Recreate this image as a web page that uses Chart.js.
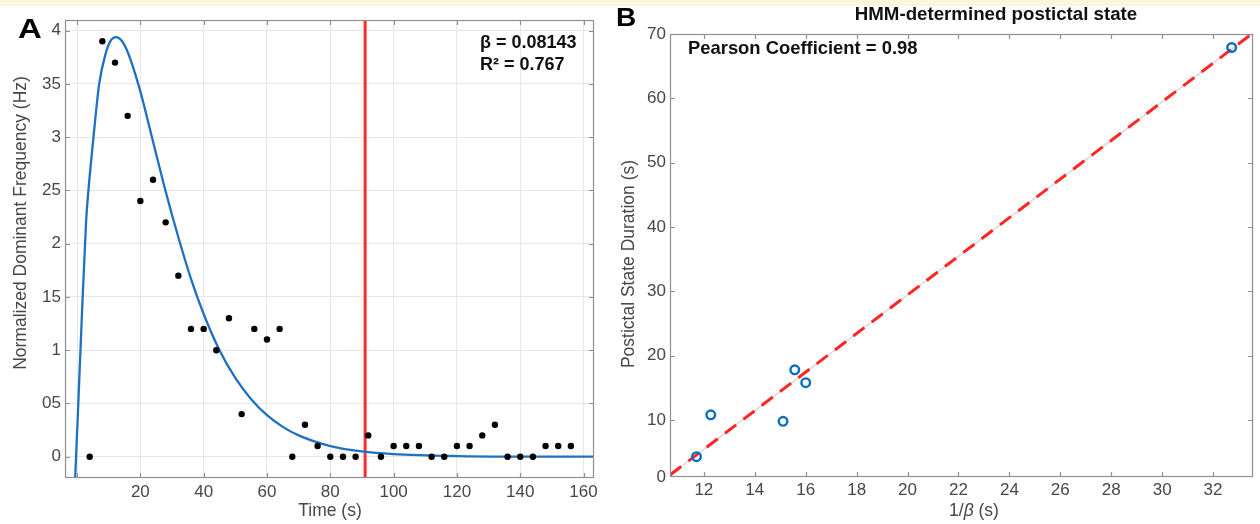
<!DOCTYPE html>
<html>
<head>
<meta charset="utf-8">
<title>Postictal state</title>
<script src="https://cdn.jsdelivr.net/npm/chart.js@4.4.1/dist/chart.umd.min.js"></script>
<style>
    html, body { margin: 0; padding: 0; background: #ffffff; }
    body { width: 1260px; height: 524px; position: relative; overflow: hidden; }
    .band { position: absolute; left: 0; top: 0; width: 1260px; height: 6px; background: #fdf5dc; }
    #chartA { position: absolute; left: 0; top: 0; }
    #chartB { position: absolute; left: 610px; top: 0; }
</style>
</head>
<body>
<canvas id="chartA" width="610" height="524"></canvas>
<canvas id="chartB" width="650" height="524"></canvas>
<div class="band"></div>
<script>
// ---- Panel A data ----
const sampleTimes = [4, 8, 12, 16, 20, 24, 28, 32, 36, 40, 44, 48, 52, 56, 60, 64, 68, 72, 76, 80,
                     84, 88, 92, 96, 100, 104, 108, 112, 116, 120, 124, 128, 132, 136, 140, 144, 148, 152, 156];
const sampleFreq = [0, 3.9, 3.7, 3.2, 2.4, 2.6, 2.2, 1.7, 1.2, 1.2, 1.0, 1.3, 0.4, 1.2, 1.1, 1.2, 0, 0.3, 0.1, 0,
                    0, 0, 0.2, 0, 0.1, 0.1, 0.1, 0, 0, 0.1, 0.1, 0.2, 0.3, 0, 0, 0, 0.1, 0.1, 0.1];

// fitted curve
const fitTimes = [-0.6, -0.3, 0.4, 1.5, 2.85, 3.6, 5.2, 7, 9, 10.5, 12.3, 14, 16, 18, 20, 24, 28, 32, 36,
                  40, 45, 50, 55, 60, 65, 70, 80, 90, 100, 120, 140, 164];
const fitFreq = [-0.2, 0, 0.5, 1.3, 2.2, 2.5, 3.0, 3.5, 3.78, 3.9, 3.94, 3.91, 3.8, 3.63, 3.43, 2.96, 2.49, 2.06, 1.67,
                 1.34, 1.0, 0.74, 0.54, 0.39, 0.28, 0.2, 0.1, 0.05, 0.025, 0.006, 0.001, 0];

const cutoffTime = 91;

const xTicksA = [0, 20, 40, 60, 80, 100, 120, 140, 160];
const yTicksA = [0, 0.5, 1, 1.5, 2, 2.5, 3, 3.5, 4];
const yTickLabelsA = ['0', '05', '1', '15', '2', '25', '3', '35', '4'];

// ---- Panel B data ----
const invBeta = [11.71, 12.27, 15.11, 15.57, 16.0, 32.73];
const duration = [4.3, 10.8, 9.8, 17.8, 15.8, 67.9];
const lineX = [10.67, 33.58];
const lineY = [1.45, 70.2];

const xTicksB = [12, 14, 16, 18, 20, 22, 24, 26, 28, 30, 32];
const yTicksB = [1.14, 10, 20, 30, 40, 50, 60, 70];
const yTickLabelsB = ['0', '10', '20', '30', '40', '50', '60', '70'];

const FONT = "'Liberation Sans', Arial, Helvetica, sans-serif";
Chart.defaults.font.family = FONT;

function toPoints(xs, ys) {
    return xs.map(function(x, i) { return {x: x, y: ys[i]}; });
}

// box around the plot with inward tick marks on all four sides, plus free text
const framePlugin = {
    id: 'frame',
    afterDraw(chart, args, opts) {
        const ctx = chart.ctx;
        const a = chart.chartArea;
        const xs = chart.scales.x, ys = chart.scales.y;
        const len = 5;
        ctx.save();
        ctx.strokeStyle = '#8f8f8f';
        ctx.lineWidth = 1.2;
        ctx.strokeRect(Math.round(a.left) + 0.5, Math.round(a.top) + 0.5,
                       Math.round(a.right - a.left) - 1, Math.round(a.bottom - a.top) - 1);
        ctx.beginPath();
        xs.ticks.forEach(function(t) {
            const px = Math.round(xs.getPixelForValue(t.value)) + 0.5;
            if (px <= a.left + 1 || px >= a.right - 1) return;
            ctx.moveTo(px, a.bottom); ctx.lineTo(px, a.bottom - len);
            ctx.moveTo(px, a.top); ctx.lineTo(px, a.top + len);
        });
        ys.ticks.forEach(function(t) {
            const py = Math.round(ys.getPixelForValue(t.value)) + 0.5;
            if (py <= a.top - 1 || py >= a.bottom - 1) return;
            ctx.moveTo(a.left, py); ctx.lineTo(a.left + len, py);
            ctx.moveTo(a.right, py); ctx.lineTo(a.right - len, py);
        });
        ctx.stroke();

        (opts.texts || []).forEach(function(t) {
            ctx.save();
            ctx.translate(t.x, t.y);
            if (t.rotate) ctx.rotate(t.rotate);
            if (t.scaleX) ctx.scale(t.scaleX, 1);
            ctx.fillStyle = t.color || '#111';
            ctx.textBaseline = t.baseline || 'alphabetic';
            const parts = t.parts || [{text: t.text, font: t.font}];
            let total = 0;
            parts.forEach(function(p) { ctx.font = p.font; total += ctx.measureText(p.text).width; });
            let x = t.align === 'center' ? -total / 2 : 0;
            ctx.textAlign = 'left';
            parts.forEach(function(p) {
                ctx.font = p.font;
                ctx.fillText(p.text, x, 0);
                x += ctx.measureText(p.text).width;
            });
            ctx.restore();
        });
        ctx.restore();
    }
};

const tickFont = {size: 17, family: FONT};
const labelColor = '#474747';

// ---- Panel A ----
new Chart(document.getElementById('chartA'), {
    type: 'scatter',
    data: {
        datasets: [{
            data: toPoints(sampleTimes, sampleFreq),
            backgroundColor: '#000000',
            borderWidth: 0,
            pointRadius: 3.2,
            order: 1
        }, {
            data: toPoints(fitTimes, fitFreq),
            showLine: true,
            borderColor: '#1f70c1',
            borderWidth: 2.3,
            pointRadius: 0,
            cubicInterpolationMode: 'monotone',
            clip: 0,
            order: 2
        }, {
            data: [{x: cutoffTime, y: -0.2}, {x: cutoffTime, y: 4.1}],
            showLine: true,
            borderColor: '#ff2a2a',
            borderWidth: 3,
            pointRadius: 0,
            clip: 0,
            order: 3
        }]
    },
    options: {
        responsive: false,
        animation: false,
        layout: { padding: { left: 0, right: 16, top: 20, bottom: 0 } },
        plugins: {
            legend: { display: false },
            tooltip: { enabled: false },
            frame: {
                texts: [
                    { text: 'A', x: 18, y: 38, scaleX: 1.22, font: 'bold 27px ' + FONT, color: '#000' },
                    { text: 'β = 0.08143', x: 480, y: 48, font: 'bold 18px ' + FONT },
                    { text: 'R² = 0.767', x: 480, y: 70, font: 'bold 18px ' + FONT },
                    { text: 'Time (s)', x: 330, y: 511, align: 'center', baseline: 'middle',
                      font: '17.5px ' + FONT, color: labelColor },
                    { text: 'Normalized Dominant Frequency (Hz)', x: 21, y: 223, rotate: -Math.PI / 2,
                      align: 'center', baseline: 'middle', font: '17.5px ' + FONT, color: labelColor }
                ]
            }
        },
        scales: {
            x: {
                type: 'linear',
                min: -3.8,
                max: 163.3,
                afterBuildTicks: function(scale) {
                    scale.ticks = xTicksA.map(function(v) { return {value: v}; });
                },
                afterFit: function(scale) { scale.height = 46; },
                grid: { color: '#e7e7e7', drawTicks: false },
                border: { display: false },
                ticks: {
                    autoSkip: false,
                    maxRotation: 0,
                    padding: 4,
                    color: labelColor,
                    font: tickFont,
                    callback: function(value) { return value === 0 ? '' : String(value); }
                }
            },
            y: {
                type: 'linear',
                min: -0.2,
                max: 4.1,
                afterBuildTicks: function(scale) {
                    scale.ticks = yTicksA.map(function(v) { return {value: v}; });
                },
                afterFit: function(scale) { scale.width = 65; },
                grid: { color: '#e7e7e7', drawTicks: false },
                border: { display: false },
                ticks: {
                    autoSkip: false,
                    padding: 4,
                    color: labelColor,
                    font: tickFont,
                    callback: function(value, index) { return yTickLabelsA[index]; }
                }
            }
        }
    },
    plugins: [framePlugin]
});

// ---- Panel B ----
new Chart(document.getElementById('chartB'), {
    type: 'scatter',
    data: {
        datasets: [{
            data: toPoints(invBeta, duration),
            backgroundColor: 'rgba(255,255,255,0)',
            borderColor: '#0b6fc0',
            borderWidth: 2.4,
            pointRadius: 4.3,
            order: 1
        }, {
            data: toPoints(lineX, lineY),
            showLine: true,
            borderColor: '#ff2626',
            borderWidth: 3,
            borderDash: [14, 9],
            pointRadius: 0,
            clip: 0,
            order: 2
        }, {
            data: toPoints(lineX, lineY),
            showLine: true,
            borderColor: '#d4d4d4',
            borderWidth: 1.3,
            pointRadius: 0,
            clip: 0,
            order: 3
        }]
    },
    options: {
        responsive: false,
        animation: false,
        layout: { padding: { left: 0, right: 5, top: 34, bottom: 0 } },
        plugins: {
            legend: { display: false },
            tooltip: { enabled: false },
            frame: {
                texts: [
                    { text: 'B', x: 6, y: 26, scaleX: 1.12, font: 'bold 25px ' + FONT, color: '#000' },
                    { text: 'HMM-determined postictal state', x: 386, y: 15, align: 'center', baseline: 'middle',
                      font: 'bold 18.7px ' + FONT },
                    { text: 'Pearson Coefficient = 0.98', x: 78, y: 54, font: 'bold 18.4px ' + FONT },
                    { parts: [
                        { text: '1/', font: '17.5px ' + FONT },
                        { text: 'β', font: 'italic 17.5px ' + FONT },
                        { text: ' (s)', font: '17.5px ' + FONT }
                      ], x: 364, y: 511, align: 'center', baseline: 'middle', color: labelColor },
                    { text: 'Postictal State Duration (s)', x: 19, y: 264, rotate: -Math.PI / 2,
                      align: 'center', baseline: 'middle', font: '17.5px ' + FONT, color: labelColor }
                ]
            }
        },
        scales: {
            x: {
                type: 'linear',
                min: 10.67,
                max: 33.58,
                afterBuildTicks: function(scale) {
                    scale.ticks = xTicksB.map(function(v) { return {value: v}; });
                },
                afterFit: function(scale) { scale.height = 47; },
                grid: { display: false, drawTicks: false },
                border: { display: false },
                ticks: {
                    autoSkip: false,
                    maxRotation: 0,
                    padding: 3,
                    color: labelColor,
                    font: tickFont
                }
            },
            y: {
                type: 'linear',
                min: 1.14,
                max: 70,
                afterBuildTicks: function(scale) {
                    scale.ticks = yTicksB.map(function(v) { return {value: v}; });
                },
                afterFit: function(scale) { scale.width = 60; },
                grid: { display: false, drawTicks: false },
                border: { display: false },
                ticks: {
                    autoSkip: false,
                    padding: 4,
                    color: labelColor,
                    font: tickFont,
                    callback: function(value, index) { return yTickLabelsB[index]; }
                }
            }
        }
    },
    plugins: [framePlugin]
});
</script>
</body>
</html>
